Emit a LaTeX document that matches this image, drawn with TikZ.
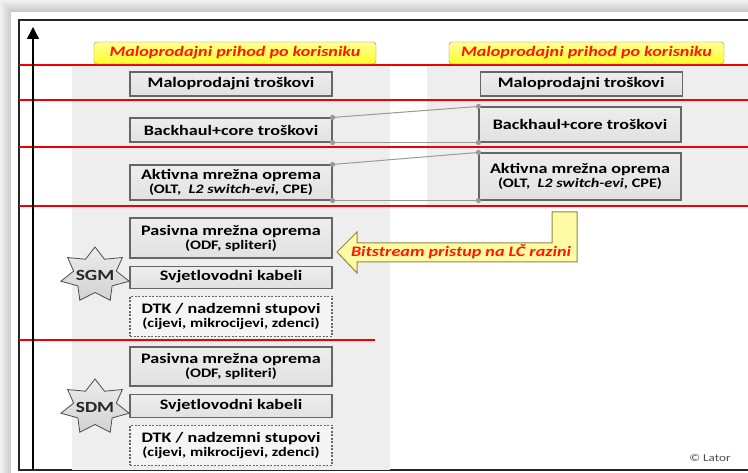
\documentclass[tikz,border=0pt]{standalone}
\usepackage{fontspec}
\setmainfont{Carlito}
\newfontfamily\boxfont[FakeStretch=1.25]{Carlito}
\usepackage{tikz}
\usetikzlibrary{arrows.meta, positioning, shapes.geometric}
\colorlet{colorLine}{red!95!black}
\colorlet{colorLabel}{red!80!orange}
\colorlet{colorBand}{gray!13}
\colorlet{colorEdge}{gray!80!black}
\colorlet{colorLink}{gray!80}
\colorlet{colorNoteEdge}{olive!55!gray}
\newcommand{\boxsub}[1]{{\fontsize{13}{14}\selectfont #1}}

\begin{document}
\begin{tikzpicture}[x=1pt, y=-1pt, >={Triangle[length=12pt,width=12pt]}, node distance=7pt,
  box/.style={draw=colorEdge, top color=gray!14, bottom color=gray!23, line width=1.1pt, minimum width=202pt, inner sep=0pt, align=center, font=\boxfont\bfseries\fontsize{14.5}{14}\selectfont},
  dtkbox/.style={box, top color=gray!8, bottom color=gray!8, dash pattern=on 2pt off 1.5pt},
  headnote/.style={draw=colorNoteEdge, top color=yellow!40, bottom color=yellow!85, rounded corners=3pt, minimum height=22pt, inner sep=0pt, text=colorLabel, font=\boxfont\bfseries\itshape\fontsize{14.5}{14}\selectfont},
  redline/.style={colorLine, line width=2.2pt},
  link/.style={colorLink, line width=1pt, {Circle[length=5pt]}-{Circle[length=5pt]}, shorten <=-2.5pt, shorten >=-2.5pt},
  sevenstar/.style={star, star points=7, star point ratio=1.6, minimum size=56pt, inner sep=0pt, draw=gray!60!black, line width=0.8pt, top color=gray!15, bottom color=gray!35}]
\useasboundingbox (0,0) rectangle (748,473);
% shadow and frame
\foreach \i [evaluate=\i as \c using 10+3*\i] in {0,...,11}
  \fill[gray!\c] (\i,\i) rectangle (770,490);
\fill[white] (11,12) rectangle (770,490);
\draw[gray!30!black, line width=1.3pt] (19,20) rectangle (780,470);
% columns
\fill[colorBand] (72,65) rectangle (390,470);
\fill[colorBand] (427,65) rectangle (748,206);
% levels
\foreach \y in {65,100,147,206}
  \draw[redline] (19,\y) -- (748,\y);
\draw[redline] (19,340) -- (375,340);
\draw[->, line width=1.6pt] (33,470) -- (33,27);

\node[headnote, minimum width=282pt] (head1) at (235,53) {Maloprodajni prihod po korisniku};
\node[headnote, minimum width=275pt] (head2) at (586.5,53) {Maloprodajni prihod po korisniku};

% left column
\node[box, minimum height=24pt] (mal1) at (231,84) {Maloprodajni troškovi};
\node[box, minimum height=24pt] (bac1) at (231,130) {Backhaul+core troškovi};
\node[box, minimum height=35pt] (akt1) at (231,182.5) {Aktivna mrežna oprema\\\boxsub{(OLT,\ \ \textit{L2 switch-evi}, CPE)}};
\node[box, minimum height=40pt] (pas1) at (231,238) {Pasivna mrežna oprema\\\boxsub{(ODF, spliteri)}};
\node[box, minimum height=22pt, below=of pas1] (svj1) {Svjetlovodni kabeli};
\node[dtkbox, minimum height=40pt, below=of svj1] (dtk1) {DTK / nadzemni stupovi\\\boxsub{(cijevi, mikrocijevi, zdenci)}};
\node[box, minimum height=39pt] (pas2) at (231,366.5) {Pasivna mrežna oprema\\\boxsub{(ODF, spliteri)}};
\node[box, minimum height=23pt, below=of pas2] (svj2) {Svjetlovodni kabeli};
\node[dtkbox, minimum height=40pt, below=of svj2] (dtk2) {DTK / nadzemni stupovi\\\boxsub{(cijevi, mikrocijevi, zdenci)}};

% right column
\node[box, minimum height=24pt, right=147pt of mal1] (mal2) {Maloprodajni troškovi};
\node[box, minimum height=35pt] (bac2) at (580,124.5) {Backhaul+core troškovi};
\node[box, minimum height=47pt] (akt2) at (580,176.5) {Aktivna mrežna oprema\\\boxsub{(OLT,\ \ \textit{L2 switch-evi}, CPE)}};

\draw[link] (bac1.north east) -- (bac2.north west);
\draw[link] (bac1.south east) -- (bac2.south west);
\draw[link] (akt1.north east) -- (akt2.north west);
\draw[link] (akt1.south east) -- (akt2.south west);

% stars
\begin{scope}[shift={(95,275)}, xscale=1.25, transform shape]
  \node[sevenstar] (sgmstar) {};
\end{scope}
\begin{scope}[shift={(95,407)}, xscale=1.25, transform shape]
  \node[sevenstar] (sdmstar) {};
\end{scope}
\node[font=\boxfont\bfseries\fontsize{15.5}{15}\selectfont, text=black!85] (sgm) at (sgmstar) {SGM};
\node[font=\boxfont\bfseries\fontsize{15.5}{15}\selectfont, text=black!85] (sdm) at (sdmstar) {SDM};

% bitstream arrow
\draw[colorNoteEdge, fill=yellow!35, line width=1pt] (337,252) -- (357,232) -- (357,243) -- (552,243) -- (552,212) -- (577,212) -- (577,262) -- (357,262) -- (357,273) -- cycle;
\node[text=colorLabel, font=\boxfont\bfseries\itshape\fontsize{14.5}{14}\selectfont] (bits) at (461,252) {Bitstream pristup na LČ razini};

\node[text=gray!60!black, font=\boxfont\fontsize{10.5}{11}\selectfont] (lator) at (710,458) {© Lator};
\end{tikzpicture}
\end{document}
